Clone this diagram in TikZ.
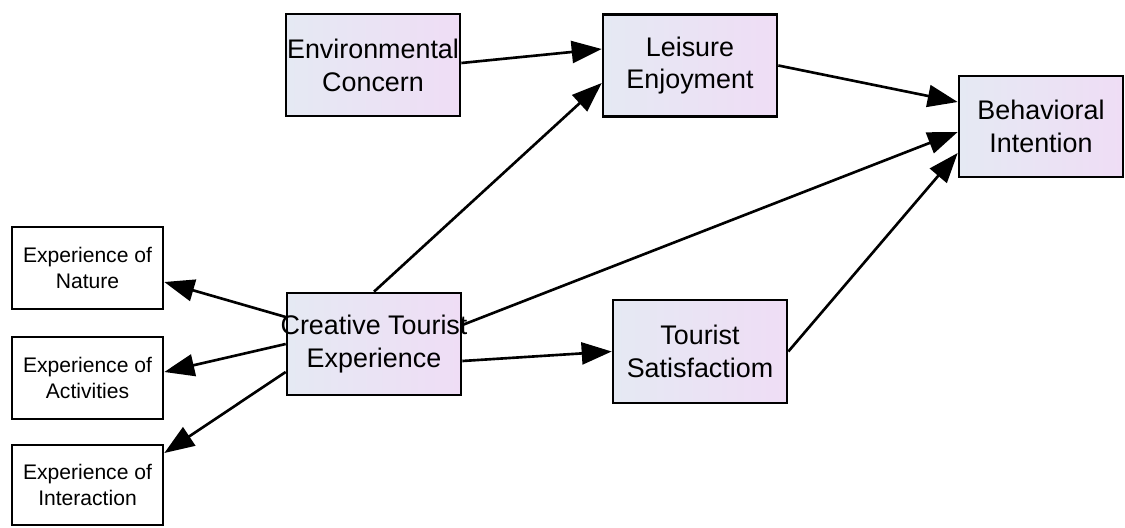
\documentclass[tikz,border=0pt]{standalone}
\usepackage{fontspec}
\setmainfont{Liberation Sans}
\usepackage{tikz}
\usetikzlibrary{calc,arrows.meta}
\definecolor{boxleft}{RGB}{229,233,243}
\definecolor{boxright}{RGB}{239,221,245}
\tikzset{
% Two node styles for the path model: shaded constructs and plain indicators
construct node/.style={rectangle,draw,line width=1.5pt,inner sep=0pt,left color=boxleft,right color=boxright,
  minimum width=3.48cm,minimum height=2.04cm,align=center,font=\fontsize{15.3}{18.7}\selectfont},
indicator node/.style={rectangle,draw,line width=1.5pt,inner sep=0pt,fill=white,
  minimum width=3.02cm,minimum height=1.64cm,align=center,font=\fontsize{12}{14.5}\selectfont},
path arrow/.style={line width=1.5pt,-{Triangle[length=6mm,width=4.4mm]}}
}
\begin{document}
\begin{tikzpicture}[scale=1]
      \useasboundingbox (0,0) rectangle (22.5,-10.54);
      % The constructs
      \node(env)[construct node] at (7.46,-1.30) {Environmental\\Concern};
      \node(leis)[construct node] at (13.80,-1.31) {Leisure\\Enjoyment};
      \node(beh)[construct node,minimum width=3.28cm,minimum height=2.02cm] at (20.82,-2.53) {Behavioral\\Intention};
      \node(cte)[construct node] at (7.48,-6.88) {\makebox[0pt]{Creative Tourist}\\Experience};
      \node(sat)[construct node,minimum height=2.06cm] at (14.0,-7.03) {Tourist\\Satisfactiom};
      % The indicators on the left
      \node(nat)[indicator node] at (1.75,-5.36) {Experience of\\Nature};
      \node(act)[indicator node] at (1.75,-7.56) {Experience of\\Activities};
      \node(int)[indicator node,minimum height=1.6cm] at (1.75,-9.70) {Experience of\\Interaction};
      % Paths between constructs
      \draw[path arrow] ([yshift=0.04cm]env.east) -- ([yshift=0.33cm]leis.west);
      \draw[path arrow] (cte.north) -- ([yshift=-0.35cm]leis.west);
      \draw[path arrow] (leis.east) -- ([yshift=0.49cm]beh.west);
      \draw[path arrow] ([yshift=0.38cm]cte.east) -- ([yshift=-0.11cm]beh.west);
      \draw[path arrow] (sat.east) -- ([yshift=-0.53cm]beh.west);
      \draw[path arrow] ([yshift=-0.34cm]cte.east) -- (sat.west);
      % Loadings on the indicators
      \draw[path arrow] ([yshift=0.54cm]cte.west) -- ([yshift=-0.28cm]nat.east);
      \draw[path arrow] (cte.west) -- ([yshift=0.12cm]act.east);
      \draw[path arrow] ([yshift=-0.56cm]cte.west) -- ([yshift=0.64cm]int.east);
    \end{tikzpicture}
\end{document}
